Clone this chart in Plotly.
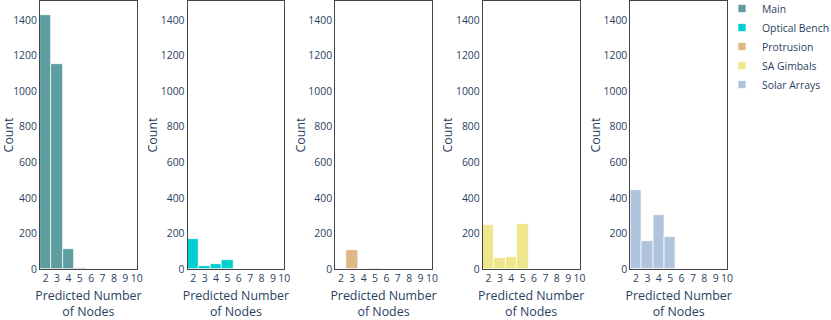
import plotly.graph_objects as go

nodes = [2, 3, 4, 5]
components = ["Main", "Optical Bench", "Protrusion", "SA Gimbals", "Solar Arrays"]
main_counts = [1428, 1155, 114, 8]
optical_counts = [167, 17, 26, 50]
protrusion_counts = [0, 107, 0, 5]
gimbal_counts = [245, 62, 67, 254]
solar_counts = [447, 157, 303, 181]
colors = ["#5F9EA0", "#00CED1", "#DEB887", "#F0E68C", "#B0C4DE"]
x_ticks = [2, 3, 4, 5, 6, 7, 8, 9, 10]
y_ticks = [0, 200, 400, 600, 800, 1000, 1200, 1400]

series = [main_counts, optical_counts, protrusion_counts, gimbal_counts, solar_counts]

L, R = 40, 104
W = 831
pw = W - L - R
starts = [40, 187.6, 335.2, 482.8, 630.4]
width = 96.7
domains = [[(s - L) / pw, min(1.0, (s + width - L) / pw)] for s in starts]

fig = go.Figure()
fnt = "Open Sans, verdana, arial, sans-serif"
tc = "#2a3f5f"
for i, (name, vals, col) in enumerate(zip(components, series, colors)):
    ax = "" if i == 0 else str(i + 1)
    fig.add_trace(go.Bar(
        x=nodes, y=vals, name=name, width=1, showlegend=False,
        marker=dict(color=col, line=dict(color="white", width=0.7)),
        xaxis="x" + ax, yaxis="y" + ax,
    ))
    fig.layout["xaxis" + ax] = dict(
        domain=domains[i], anchor="y" + ax, range=[1.5, 10],
        tickmode="array", tickvals=x_ticks, ticktext=[str(t) for t in x_ticks],
        showgrid=False, zeroline=False, showline=True, mirror=True,
        linecolor="#444", linewidth=1, ticks="", automargin=False,
        tickfont=dict(size=10.4, color=tc, family=fnt),
        title=dict(text="Predicted Number<br>of Nodes", font=dict(size=12.4, color=tc, family=fnt), standoff=12),
    )
    fig.layout["yaxis" + ax] = dict(
        anchor="x" + ax, range=[0, 1507],
        tickmode="array", tickvals=y_ticks,
        showgrid=False, zeroline=False, showline=True, mirror=True,
        linecolor="#444", linewidth=1, ticks="", automargin=False,
        tickfont=dict(size=10.4, color=tc, family=fnt),
        title=dict(text="Count", font=dict(size=12.4, color=tc, family=fnt), standoff=5 if i == 0 else 0),
    )

# legend entries with small square swatches
for name, col in zip(components, colors):
    fig.add_trace(go.Scatter(
        x=[None], y=[None], name=name, mode="markers",
        marker=dict(symbol="square", size=8, color=col, line=dict(color="white", width=0.7)),
        xaxis="x5", yaxis="y5", hoverinfo="skip",
    ))

fig.update_layout(
    width=W, height=320,
    margin=dict(l=L, r=R, t=1, b=51, autoexpand=False),
    paper_bgcolor="white", plot_bgcolor="white",
    bargap=0,
    font=dict(family=fnt, size=10.4, color=tc),
    legend=dict(x=0.9927, y=1.026, xanchor="left", yanchor="top", font=dict(size=10.4, color=tc),
                bgcolor="rgba(0,0,0,0)", tracegroupgap=0),
)

fig.write_html("out.html", config={"displayModeBar": False},
               post_script="document.body.style.margin='0px';")
